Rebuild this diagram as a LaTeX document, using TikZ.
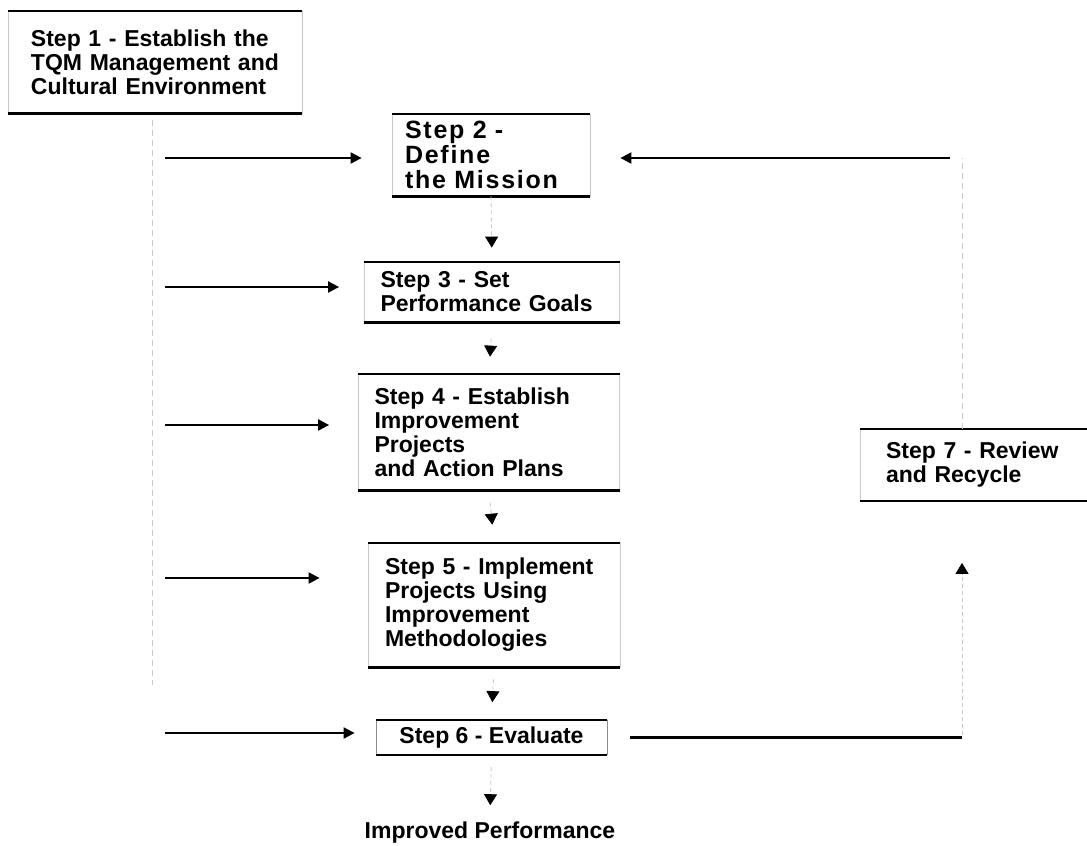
\documentclass[tikz,border=0pt]{standalone}
\usepackage{fontspec}
\setmainfont{Liberation Sans}
\usetikzlibrary{arrows.meta, positioning}
\definecolor{ScanGray}{RGB}{200, 200, 200}

\tikzset{
  stepbox/.style={draw=ScanGray, thin, align=left, inner ysep=0pt,
    font=\bfseries\fontsize{11.5}{12}\selectfont},
  rule/.style={line width=1.1pt},
  feed/.style={line width=1pt, -{Triangle[length=5.5pt, width=5.5pt]}},
  flow/.style={draw=ScanGray, thin, dash pattern=on 2pt off 1.5pt,
    -{Triangle[length=5.5pt, width=6.5pt, color=black]}},
  faint/.style={draw=ScanGray, thin, dash pattern=on 3pt off 2pt}
}

\begin{document}
\begin{tikzpicture}[x=0.5pt, y=-0.5pt]
  \useasboundingbox (0,0) rectangle (1087,846);

  % the seven steps
  \node[stepbox, text width=124pt, inner xsep=11.5pt, minimum height=51pt] (s1) at (155,62)
    {Step 1 - Establish the\\TQM Management and\\Cultural Environment};
  \node[stepbox, text width=86pt, inner xsep=6.5pt, minimum height=41pt,
        font=\bfseries\fontsize{12.5}{12.5}\selectfont] (s2) at (491,155)
    {\addfontfeature{LetterSpace=7}Step 2 -\\Define\\the Mission};
  \node[stepbox, text width=111.5pt, inner xsep=8pt, minimum height=30pt] (s3) at (492,292)
    {Step 3 - Set\\Performance Goals};
  \node[stepbox, text width=114.5pt, inner xsep=8pt, minimum height=58pt] (s4) at (489,432)
    {Step 4 - Establish\\Improvement\\Projects\\and Action Plans};
  \node[stepbox, text width=109pt, inner xsep=8.5pt, minimum height=62pt] (s5) at (494,605)
    {Step 5 - Implement\\Projects Using\\Improvement\\Methodologies};
  \node[stepbox, draw=black!45, align=center, minimum width=115.5pt, minimum height=17pt] (s6) at (491.5,737.5)
    {Step 6 - Evaluate};
  \node[stepbox, text width=87.5pt, inner xsep=13pt, minimum height=35.5pt] (s7) at (973.5,465)
    {Step 7 - Review\\and Recycle};
  \node[font=\bfseries\fontsize{11.5}{12}\selectfont] (out) at (490,833) {Improved Performance};

  % heavy top and bottom rules
  \foreach \n in {s1,s2,s3,s4,s5,s6,s7}
    \draw[rule] (\n.north west) -- (\n.north east) (\n.south west) -- (\n.south east);

  % management feed on the left
  \coordinate (busTop) at (152,120);
  \coordinate (busBot) at (152,685);
  \draw[faint] (busTop) -- (busBot);
  \foreach \n/\y/\g in {s2/158/15, s3/287/12.5, s4/425/14.5, s5/578/24, s6/733/10.5} {
    \coordinate (f\n) at (165,\y);
    \draw[feed, shorten >=\g pt] (f\n) -- (f\n -| \n.west);
  }

  % main flow
  \draw[flow, shorten >=7pt] (s2.south) -- (s3.north);
  \draw[flow, shorten <=8pt, shorten >=8.5pt] (s3.south) -- (s4.north);
  \draw[flow, shorten <=6pt, shorten >=9pt] (s4.south) -- (s5.north);
  \draw[flow, shorten <=6pt, shorten >=9pt] (s5.south) -- (s6.north);
  \draw[flow, shorten <=6pt, shorten >=5pt] (s6.south) -- (out.north);

  % review loop on the right
  \coordinate (rBot) at (962,735);
  \coordinate (rTop) at (962,158);
  \draw[rule, shorten <=11.5pt] (s6.east) -- (s6.east -| rBot);
  \draw[flow, shorten >=31pt] (rBot) -- (rBot |- s7.south);
  \draw[faint] (rTop |- s7.north) -- (rTop);
  \draw[feed, shorten <=6pt, shorten >=15pt] (rTop) -- (rTop -| s2.east);
\end{tikzpicture}
\end{document}
